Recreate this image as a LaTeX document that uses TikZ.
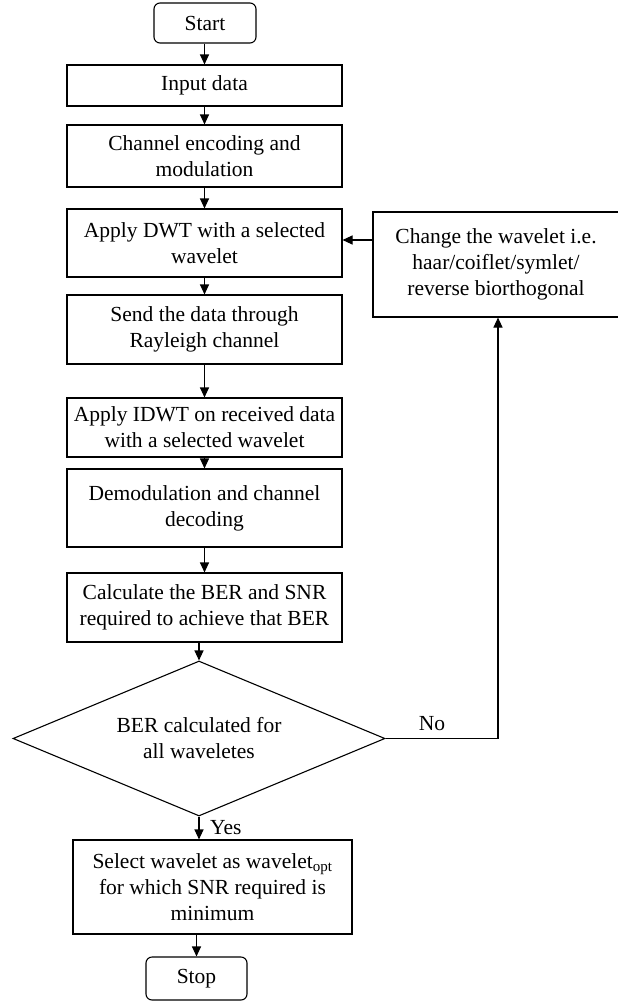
\documentclass[tikz,border=0pt]{standalone}
\usepackage{fontspec}
\setmainfont{Liberation Serif}
\usetikzlibrary{shapes.geometric,arrows.meta}
\begin{document}
\begin{tikzpicture}[x=1pt,y=-1pt,
  every node/.style={font=\fontsize{21.5}{26}\selectfont, align=center, inner sep=0pt},
  box/.style={draw, line width=1.1pt, rectangle, minimum width=275pt},
  term/.style={draw, line width=1.1pt, rectangle, rounded corners=6pt},
  decision/.style={draw, line width=1.1pt, diamond, shape aspect=2.4, minimum width=372pt, minimum height=155pt},
  arr/.style={line width=1.1pt, -{Triangle[length=10pt,width=9pt]}},
  lbl/.style={font=\fontsize{21.5}{26}\selectfont}
]
\useasboundingbox (0,0) rectangle (618,1002);

\node[term, minimum width=102pt, minimum height=40pt] (start) at (205,23) {Start};
\node[box, minimum height=41pt] (input) at (204.5,85.5) {Input data};
\node[box, minimum height=62pt] (chan) at (204.5,156) {Channel encoding and\\modulation};
\node[box, minimum height=68pt] (dwt) at (204.5,243) {Apply DWT with a selected\\wavelet};
\node[box, minimum height=69pt] (send) at (204.5,329.5) {Send the data through\\Rayleigh channel};
\node[box, minimum height=59pt] (idwt) at (204.5,427.5) {Apply IDWT on received data\\with a selected wavelet};
\node[box, minimum height=78pt] (demod) at (204.5,508) {Demodulation and channel\\decoding};
\node[box, minimum height=69pt] (calc) at (204.5,607.5) {Calculate the BER and SNR\\required to achieve that BER};
\node[decision] (dia) at (199,738.5) {BER calculated for\\all waveletes};
\node[box, minimum width=279pt, minimum height=94pt] (sel) at (212.5,887) {Select wavelet as wavelet\textsubscript{opt}\\for which SNR required is\\minimum};
\node[term, minimum width=101pt, minimum height=43pt] (stop) at (196.5,978.5) {Stop};
\node[box, minimum width=246pt, minimum height=105pt] (chg) at (496,264.5) {Change the wavelet i.e.\\haar/coiflet/symlet/\\reverse biorthogonal};

\coordinate (nocorner) at (498,738.5);

\draw[arr] (start.south -| input.north) -- (input.north);
\draw[arr] (input) -- (chan);
\draw[arr] (chan) -- (dwt);
\draw[arr] (dwt) -- (send);
\draw[arr] (send) -- (idwt);
\draw[arr] (idwt) -- (demod);
\draw[arr] (demod) -- (calc);
\draw[arr] (calc.south -| dia.north) -- (dia.north);
\draw[arr] (dia.south) -- (dia.south |- sel.north);
\draw[arr] (sel.south -| stop.north) -- (stop.north);
\draw[arr] (dia.east) -- (nocorner) -- (nocorner |- chg.south);
\draw[arr] (chg.west |- 0,240) -- (dwt.east |- 0,240);

\node[lbl] (no) at (432,724) {No};
\node[lbl, anchor=west] (yes) at (210,828) {Yes};
\end{tikzpicture}
\end{document}
